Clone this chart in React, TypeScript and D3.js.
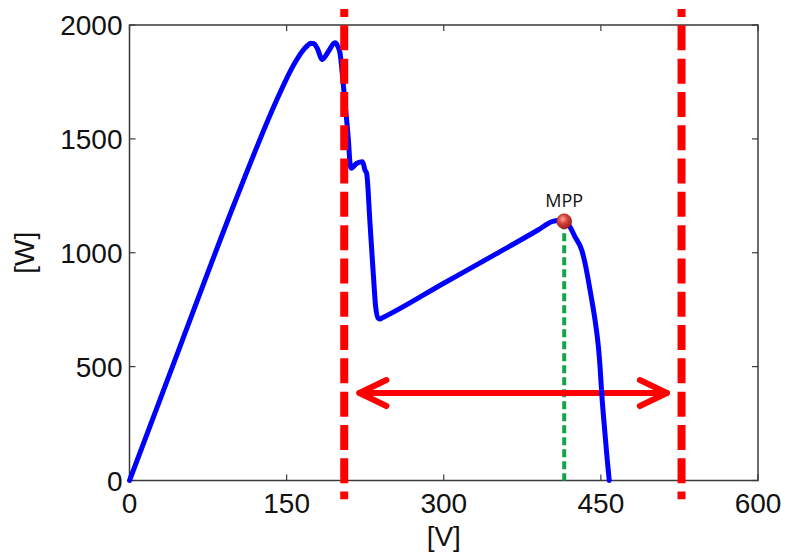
import React from "react";
import * as d3 from "d3";

// ---- data ----
const voltage = [0, 50, 100, 140, 150, 158, 165, 170, 173, 176, 179, 184, 190, 196, 199, 201, 204, 207, 209, 210.5, 211.5, 217, 222.5, 224.8, 226.4, 229.6, 232.7, 235, 237.5, 239.2, 241, 300, 350, 390, 404, 410, 415, 420.5, 425.3, 431.7, 434.9, 438, 441.3, 444.4, 447.6, 449.2, 450.8, 453.9, 456.1, 458];
const power = [0, 610, 1215, 1665, 1765, 1835, 1885, 1910, 1920, 1918, 1900, 1849, 1885, 1922, 1905, 1876, 1744, 1597, 1495, 1393, 1371, 1393, 1400, 1363, 1349, 1129, 910, 763, 712, 709, 713, 866, 995, 1100, 1138, 1142, 1138, 1114, 1070, 1012, 954, 880, 793, 705, 588, 500, 383, 207, 90, 0];

const xTicks = [0, 150, 300, 450, 600];
const yTicks = [0, 500, 1000, 1500, 2000];

const windowBounds = [205, 527]; // red dashed limits [V]
const windowExtent = [-82, 2070]; // vertical extent of red dashed lines [W]
const arrowRange = [219.5, 513]; // [V]
const arrowLevel = 384; // [W]
const mpp = { v: 415, p: 1138, label: "MPP" };
const xLabel = "[V]";
const yLabel = "[W]";

const W = 791;
const H = 558;
const plot = { left: 129.5, right: 758, top: 25, bottom: 480.5 };

export default function App() {
  const x = d3.scaleLinear().domain([0, 600]).range([plot.left, plot.right]);
  const y = d3.scaleLinear().domain([0, 2000]).range([plot.bottom, plot.top]);

  const pts = voltage.map((v, i) => [v, power[i]] as [number, number]);
  const line = d3
    .line<[number, number]>()
    .x((d) => x(d[0]))
    .y((d) => y(d[1]))
    .curve(d3.curveMonotoneX);

  const axisColor = "#3a3a3a";
  const tickLen = 6;
  const font = "'Liberation Sans', Arial, sans-serif";

  const ax0 = x(arrowRange[0]);
  const ax1 = x(arrowRange[1]);
  const ay = y(arrowLevel);

  return (
    <svg
      width={W}
      height={H}
      style={{ position: "fixed", left: 0, top: 0, background: "#fff" }}
    >
      <defs>
        <radialGradient id="ball" cx="40%" cy="35%" r="65%">
          <stop offset="0%" stopColor="#f7a3a0" />
          <stop offset="45%" stopColor="#d9453c" />
          <stop offset="100%" stopColor="#9a1d18" />
        </radialGradient>
      </defs>
      <rect width={W} height={H} fill="#fff" />

      {/* axes box */}
      <rect
        x={plot.left}
        y={plot.top}
        width={plot.right - plot.left}
        height={plot.bottom - plot.top}
        fill="none"
        stroke={axisColor}
        strokeWidth={1.5}
      />
      {xTicks.map((t) => (
        <g key={"xt" + t}>
          <line x1={x(t)} x2={x(t)} y1={plot.bottom} y2={plot.bottom - tickLen} stroke={axisColor} strokeWidth={1.2} />
          <line x1={x(t)} x2={x(t)} y1={plot.top} y2={plot.top + tickLen} stroke={axisColor} strokeWidth={1.2} />
          <text x={x(t)} y={plot.bottom + 32} textAnchor="middle" fontFamily={font} fontSize={28} fill="#111">
            {t}
          </text>
        </g>
      ))}
      {yTicks.map((t) => (
        <g key={"yt" + t}>
          <line x1={plot.left} x2={plot.left + tickLen} y1={y(t)} y2={y(t)} stroke={axisColor} strokeWidth={1.2} />
          <line x1={plot.right} x2={plot.right - tickLen} y1={y(t)} y2={y(t)} stroke={axisColor} strokeWidth={1.2} />
          <text x={plot.left - 7} y={y(t) + 10} textAnchor="end" fontFamily={font} fontSize={28} fill="#111">
            {t}
          </text>
        </g>
      ))}
      <text x={(plot.left + plot.right) / 2} y={546} textAnchor="middle" fontFamily={font} fontSize={28} fill="#111">
        {xLabel}
      </text>
      <text
        transform={`translate(34, ${(plot.top + plot.bottom) / 2}) rotate(-90)`}
        textAnchor="middle"
        fontFamily={font}
        fontSize={28}
        fill="#111"
      >
        {yLabel}
      </text>

      {/* green dashed MPP drop line */}
      <line
        x1={x(mpp.v)}
        x2={x(mpp.v)}
        y1={y(mpp.p)}
        y2={y(0)}
        stroke="#10a548"
        strokeWidth={4}
        strokeDasharray="8,4"
      />

      {/* red double arrow */}
      <g stroke="#ff0000" strokeWidth={6} strokeLinecap="round" strokeLinejoin="round" fill="none">
        <line x1={ax0} x2={ax1} y1={ay} y2={ay} />
        <polyline points={`${ax0 + 27},${ay - 13} ${ax0},${ay} ${ax0 + 27},${ay + 13}`} />
        <polyline points={`${ax1 - 27},${ay - 13} ${ax1},${ay} ${ax1 - 27},${ay + 13}`} />
      </g>

      {/* P-V curve */}
      <path
        d={line(pts) || ""}
        fill="none"
        stroke="#0000ff"
        strokeWidth={5}
        strokeLinejoin="round"
        strokeLinecap="round"
      />

      {/* red dashed window limits */}
      {windowBounds.map((b) => (
        <line
          key={"wb" + b}
          x1={x(b)}
          x2={x(b)}
          y1={y(windowExtent[1])}
          y2={y(windowExtent[0])}
          stroke="#ff0000"
          strokeWidth={8}
          strokeDasharray="25,8.3"
          strokeDashoffset={17}
        />
      ))}

      {/* MPP marker */}
      <circle cx={x(mpp.v)} cy={y(mpp.p)} r={7.5} fill="url(#ball)" stroke="#a0201a" strokeWidth={0.6} />
      <text
        x={x(mpp.v)}
        y={y(mpp.p) - 14}
        textAnchor="middle"
        fontFamily="'Open Sans', 'Noto Sans', sans-serif"
        fontSize={18}
        fill="#111"
      >
        {mpp.label}
      </text>
    </svg>
  );
}
